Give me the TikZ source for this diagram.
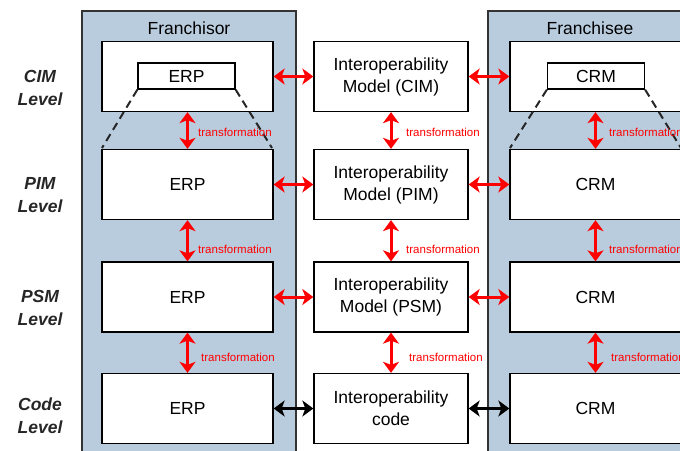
\documentclass[tikz,border=0pt]{standalone}
\usepackage{fontspec}
\setmainfont{Liberation Sans}
\usetikzlibrary{arrows.meta}
\definecolor{panelfill}{RGB}{185,204,222}
\definecolor{linkred}{RGB}{255,0,0}
\begin{document}
\begin{tikzpicture}[x=1pt,y=-1pt,
  >={Stealth[length=11pt,width=16pt,inset=3pt]},
  panel/.style={draw=black!80, line width=1.5pt, fill=panelfill},
  model/.style={draw=black, line width=1.3pt, fill=white, inner sep=0pt,
    minimum width=171pt, minimum height=70pt, align=center,
    font=\fontsize{17.5}{22}\selectfont},
  iomodel/.style={model, minimum width=154pt},
  inner/.style={draw=black, line width=1.3pt, fill=white, inner sep=0pt,
    minimum width=97pt, minimum height=26pt, font=\fontsize{17.5}{22}\selectfont},
  title/.style={font=\fontsize{17.5}{22}\selectfont},
  level/.style={align=center, font=\fontsize{17.5}{23}\selectfont\bfseries\itshape, text=black!85},
  redlink/.style={<->, draw=linkred, line width=3pt},
  blacklink/.style={<->, draw=black, line width=3pt},
  xform/.style={anchor=west, inner sep=0pt, text=linkred, font=\fontsize{11.5}{13}\selectfont},
  abstraction/.style={draw=black!85, line width=2pt, dash pattern=on 8pt off 5pt}
]
\useasboundingbox (0,0) rectangle (680,450);
\clip (0,0) rectangle (680,450);

% side panels
\draw[panel] (82,11) rectangle (296,470);
\draw[panel] (488,11) rectangle (702,470);
\node[title] (torT) at (189,28) {Franchisor};
\node[title] (teeT) at (590,28) {Franchisee};

% level captions
\node[level] (lcim)  at (40,87.5)  {CIM\\Level};
\node[level] (lpim)  at (40,195)   {PIM\\Level};
\node[level] (lpsm)  at (40,308)   {PSM\\Level};
\node[level] (lcode) at (40,415.5) {Code\\Level};

% franchisor column
\node[model] (e1) at (187.5,76.5) {};
\node[inner] (e1i) at (186.5,76) {ERP};
\node[model] (e2) at (187.5,184.5) {ERP};
\node[model] (e3) at (187.5,297) {ERP};
\node[model] (e4) at (187.5,408.5) {ERP};

% interoperability column
\node[iomodel] (m1) at (391,76.5) {Interoperability\\Model (CIM)};
\node[iomodel] (m2) at (391,184.5) {Interoperability\\Model (PIM)};
\node[iomodel] (m3) at (391,297) {Interoperability\\Model (PSM)};
\node[iomodel] (m4) at (391,408.5) {Interoperability\\code};

% franchisee column
\node[model] (c1) at (595.5,76.5) {};
\node[inner] (c1i) at (596,76) {CRM};
\node[model] (c2) at (595.5,184.5) {CRM};
\node[model] (c3) at (595.5,297) {CRM};
\node[model] (c4) at (595.5,408.5) {CRM};

% abstraction cones from the CIM views
\coordinate (e1l) at (102,148);
\coordinate (e1r) at (272,148);
\coordinate (c1l) at (510,148);
\coordinate (c1r) at (681,148);
\draw[abstraction] (e1i.south west) -- (e1l);
\draw[abstraction] (e1i.south east) -- (e1r);
\draw[abstraction] (c1i.south west) -- (c1l);
\draw[abstraction] (c1i.south east) -- (c1r);

% horizontal interoperability links
\draw[redlink] (e1.east) -- (m1.west);
\draw[redlink] (m1.east) -- (c1.west);
\draw[redlink] (e2.east) -- (m2.west);
\draw[redlink] (m2.east) -- (c2.west);
\draw[redlink] (e3.east) -- (m3.west);
\draw[redlink] (m3.east) -- (c3.west);
\draw[blacklink] (e4.east) -- (m4.west);
\draw[blacklink] (m4.east) -- (c4.west);

% vertical transformations
\draw[redlink] (e1.south) -- (e2.north);
\draw[redlink] (e2.south) -- (e3.north);
\draw[redlink] (e3.south) -- (e4.north);
\draw[redlink] (m1.south) -- (m2.north);
\draw[redlink] (m2.south) -- (m3.north);
\draw[redlink] (m3.south) -- (m4.north);
\draw[redlink] (c1.south) -- (c2.north);
\draw[redlink] (c2.south) -- (c3.north);
\draw[redlink] (c3.south) -- (c4.north);

\node[xform] (t1) at (198,132) {transformation};
\node[xform] (t2) at (198,249) {transformation};
\node[xform] (t3) at (201,357) {transformation};
\node[xform] (t4) at (406,132) {transformation};
\node[xform] (t5) at (406,249) {transformation};
\node[xform] (t6) at (409,357) {transformation};
\node[xform] (t7) at (609,132) {transformation};
\node[xform] (t8) at (609,249) {transformation};
\node[xform] (t9) at (611,357) {transformation};
\end{tikzpicture}
\end{document}
